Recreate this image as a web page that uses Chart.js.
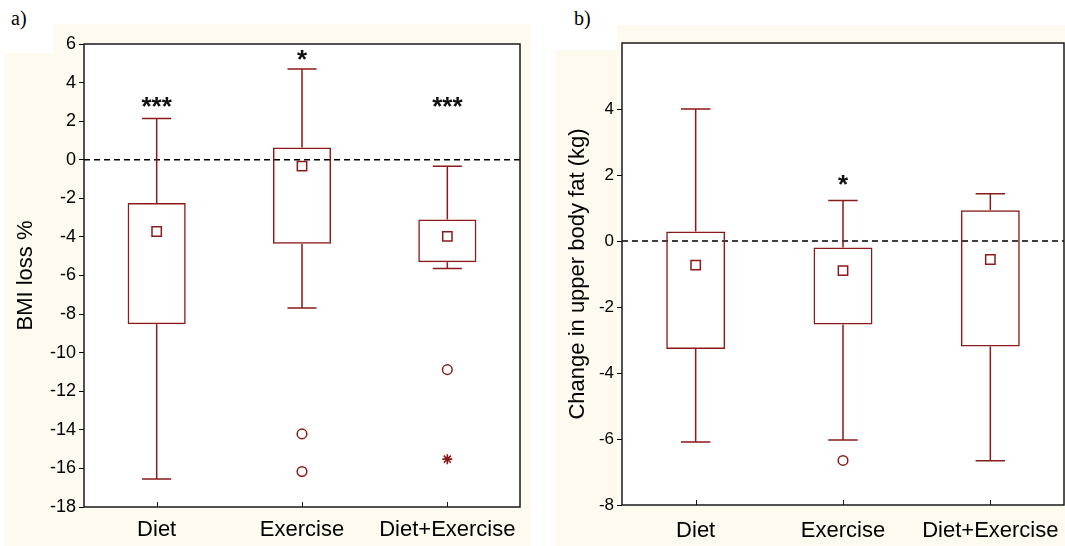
<!DOCTYPE html>
<html>
<head>
<meta charset="utf-8">
<script src="https://cdn.jsdelivr.net/npm/chart.js@4.4.1/dist/chart.umd.min.js"></script>
<style>
  html, body { margin: 0; padding: 0; }
  body { width: 1065px; height: 546px; position: relative; overflow: hidden; background: #ffffff; }
  .bg { position: absolute; background: #fefaf0; }
  canvas { position: absolute; top: 0; }
  .tag { position: absolute; font-family: 'Liberation Serif', 'Times New Roman', serif; font-size: 20px; line-height: 20px; color: #000; }
</style>
</head>
<body>
<div class="bg" style="left:53px;top:24px;width:478px;height:522px"></div>
<div class="bg" style="left:4px;top:53px;width:49px;height:493px"></div>
<div class="bg" style="left:617px;top:25px;width:448px;height:521px"></div>
<div class="bg" style="left:555px;top:50px;width:62px;height:496px"></div>
<div class="tag" style="left:11px;top:8px">a)</div>
<div class="tag" style="left:574px;top:8px">b)</div>
<canvas id="chartA" width="532" height="546" style="left:0"></canvas>
<canvas id="chartB" width="533" height="546" style="left:532px"></canvas>
<script>
// Groups compared in both panels
const groups = ['Diet', 'Exercise', 'Diet+Exercise'];

// Panel a: BMI loss %
const bmiLow = [-16.55, -7.69, -5.64];
const bmiQ1 = [-8.53, -4.36, -5.31];
const bmiQ3 = [-2.24, 0.64, -3.10];
const bmiHigh = [2.14, 4.70, -0.34];
const bmiMean = [-3.72, -0.33, -3.97];
const bmiOutlierGroup = ['Exercise', 'Exercise', 'Diet+Exercise'];
const bmiOutlierValue = [-14.21, -16.16, -10.88];
const bmiExtremeGroup = ['Diet+Exercise'];
const bmiExtremeValue = [-15.52];
const bmiSig = ['***', '*', '***'];
const bmiSigLevel = [2.79, 5.23, 2.79];
const bmiTicks = [-18, -16, -14, -12, -10, -8, -6, -4, -2, 0, 2, 4, 6];

// Panel b: change in upper body fat (kg)
const fatLow = [-6.09, -6.03, -6.66];
const fatQ1 = [-3.27, -2.53, -3.20];
const fatQ3 = [0.29, -0.20, 0.93];
const fatHigh = [4.00, 1.23, 1.43];
const fatMean = [-0.73, -0.90, -0.56];
const fatOutlierGroup = ['Exercise'];
const fatOutlierValue = [-6.65];
const fatExtremeGroup = [];
const fatExtremeValue = [];
const fatSig = ['', '*', ''];
const fatSigLevel = [null, 1.73, null];
const fatTicks = [-8, -6, -4, -2, 0, 2, 4];

const RED = '#8b1a1a';
const FONT = "'Liberation Sans', Arial, Helvetica, sans-serif";
Chart.defaults.font.family = FONT;
Chart.defaults.color = '#000';

// Whiskers, caps, zero reference line, frame and significance marks
function boxExtras(s) {
  return {
    id: 'boxExtras',
    beforeDraw(chart) {
      const { ctx, chartArea: a } = chart;
      ctx.save();
      ctx.fillStyle = '#ffffff';
      ctx.fillRect(a.left, a.top, a.right - a.left, a.bottom - a.top);
      ctx.restore();
    },
    beforeDatasetsDraw(chart) {
      const { ctx, chartArea: a, scales: { x, y } } = chart;
      ctx.save();
      // dashed zero line
      const y0 = y.getPixelForValue(0);
      ctx.strokeStyle = '#000';
      ctx.lineWidth = 1.5;
      ctx.setLineDash([6, 4]);
      ctx.beginPath();
      ctx.moveTo(a.left, y0);
      ctx.lineTo(a.right, y0);
      ctx.stroke();
      ctx.setLineDash([]);
      // whiskers
      const catW = (a.right - a.left) / groups.length;
      const capHalf = catW * 0.1;
      ctx.strokeStyle = RED;
      ctx.lineWidth = 1.5;
      groups.forEach((g, i) => {
        const cx = x.getPixelForValue(i);
        const pHi = y.getPixelForValue(s.high[i]);
        const pQ3 = y.getPixelForValue(s.q3[i]);
        const pQ1 = y.getPixelForValue(s.q1[i]);
        const pLo = y.getPixelForValue(s.low[i]);
        ctx.beginPath();
        ctx.moveTo(cx, pHi); ctx.lineTo(cx, pQ3);
        ctx.moveTo(cx, pQ1); ctx.lineTo(cx, pLo);
        ctx.moveTo(cx - capHalf, pHi); ctx.lineTo(cx + capHalf, pHi);
        ctx.moveTo(cx - capHalf, pLo); ctx.lineTo(cx + capHalf, pLo);
        ctx.stroke();
      });
      ctx.restore();
    },
    afterDraw(chart) {
      const { ctx, chartArea: a, scales: { x, y } } = chart;
      ctx.save();
      // frame
      ctx.strokeStyle = '#1a1a1a';
      ctx.lineWidth = 1.5;
      ctx.strokeRect(a.left, a.top, a.right - a.left, a.bottom - a.top);
      // inward category ticks
      ctx.lineWidth = 1;
      ctx.beginPath();
      groups.forEach((g, i) => {
        const cx = Math.round(x.getPixelForValue(i)) + 0.5;
        ctx.moveTo(cx, a.bottom);
        ctx.lineTo(cx, a.bottom - 5);
      });
      ctx.stroke();
      // significance marks
      ctx.fillStyle = '#111';
      ctx.font = 'bold 26px ' + FONT;
      ctx.textAlign = 'center';
      ctx.textBaseline = 'alphabetic';
      s.sig.forEach((t, i) => {
        if (!t) return;
        const py = y.getPixelForValue(s.sigLevel[i]);
        ctx.fillText(t, x.getPixelForValue(i), py + 9);
      });
      ctx.restore();
    }
  };
}

function makeChart(canvasId, s) {
  return new Chart(document.getElementById(canvasId), {
    type: 'bar',
    data: {
      labels: groups,
      datasets: [
        {
          type: 'line',
          data: s.mean,
          showLine: false,
          pointStyle: 'rect',
          pointRadius: 6.6,
          pointBackgroundColor: '#ffffff',
          pointBorderColor: RED,
          pointBorderWidth: 1.5,
          order: 0
        },
        {
          type: 'line',
          data: s.outGroup.map((g, i) => ({ x: g, y: s.outValue[i] })),
          showLine: false,
          pointStyle: 'circle',
          pointRadius: 4.8,
          pointBackgroundColor: '#ffffff',
          pointBorderColor: RED,
          pointBorderWidth: 1.5,
          order: 0
        },
        {
          type: 'line',
          data: s.extGroup.map((g, i) => ({ x: g, y: s.extValue[i] })),
          showLine: false,
          pointStyle: 'star',
          pointRadius: 5,
          pointBorderColor: RED,
          pointBorderWidth: 1.6,
          order: 0
        },
        {
          type: 'bar',
          data: groups.map((g, i) => [s.q1[i], s.q3[i]]),
          backgroundColor: 'rgba(0,0,0,0)',
          borderColor: RED,
          borderWidth: 1.5,
          borderSkipped: false,
          barPercentage: 0.4,
          categoryPercentage: 1.0,
          order: 1
        }
      ]
    },
    options: {
      responsive: false,
      animation: false,
      events: [],
      devicePixelRatio: 1,
      layout: { padding: s.padding, autoPadding: false },
      plugins: { legend: { display: false }, tooltip: { enabled: false } },
      scales: {
        x: {
          afterFit: sc => { sc.height = s.xHeight; sc.paddingLeft = 0; sc.paddingRight = 0; },
          grid: { display: false, drawTicks: false },
          border: { display: false },
          ticks: { font: { size: 22 }, color: '#000', padding: s.xPad, maxRotation: 0 }
        },
        y: {
          min: s.min,
          max: s.max,
          afterBuildTicks: sc => { sc.ticks = s.ticks.map(v => ({ value: v })); },
          afterFit: sc => { sc.width = s.yWidth; },
          grid: { drawOnChartArea: false, drawTicks: true, tickLength: 5, color: '#000', lineWidth: 1 },
          border: { display: false },
          ticks: { font: { size: s.yFont }, color: '#000', padding: 3 },
          title: { display: true, text: s.title, font: { size: 22 }, color: '#000', padding: { top: s.titlePad, bottom: 0 } }
        }
      }
    },
    plugins: [boxExtras(s)]
  });
}

makeChart('chartA', {
  low: bmiLow, q1: bmiQ1, q3: bmiQ3, high: bmiHigh, mean: bmiMean,
  outGroup: bmiOutlierGroup, outValue: bmiOutlierValue,
  extGroup: bmiExtremeGroup, extValue: bmiExtremeValue,
  sig: bmiSig, sigLevel: bmiSigLevel, ticks: bmiTicks,
  min: -18, max: 6, title: 'BMI loss %',
  padding: { top: 44, right: 12, bottom: 0, left: 0 },
  xHeight: 39, xPad: 10, yWidth: 84, yFont: 18, titlePad: 13
});

makeChart('chartB', {
  low: fatLow, q1: fatQ1, q3: fatQ3, high: fatHigh, mean: fatMean,
  outGroup: fatOutlierGroup, outValue: fatOutlierValue,
  extGroup: fatExtremeGroup, extValue: fatExtremeValue,
  sig: fatSig, sigLevel: fatSigLevel, ticks: fatTicks,
  min: -8, max: 6, title: 'Change in upper body fat (kg)',
  padding: { top: 43, right: 1, bottom: 0, left: 0 },
  xHeight: 41, xPad: 13, yWidth: 90, yFont: 17, titlePad: 33
});
</script>
</body>
</html>
